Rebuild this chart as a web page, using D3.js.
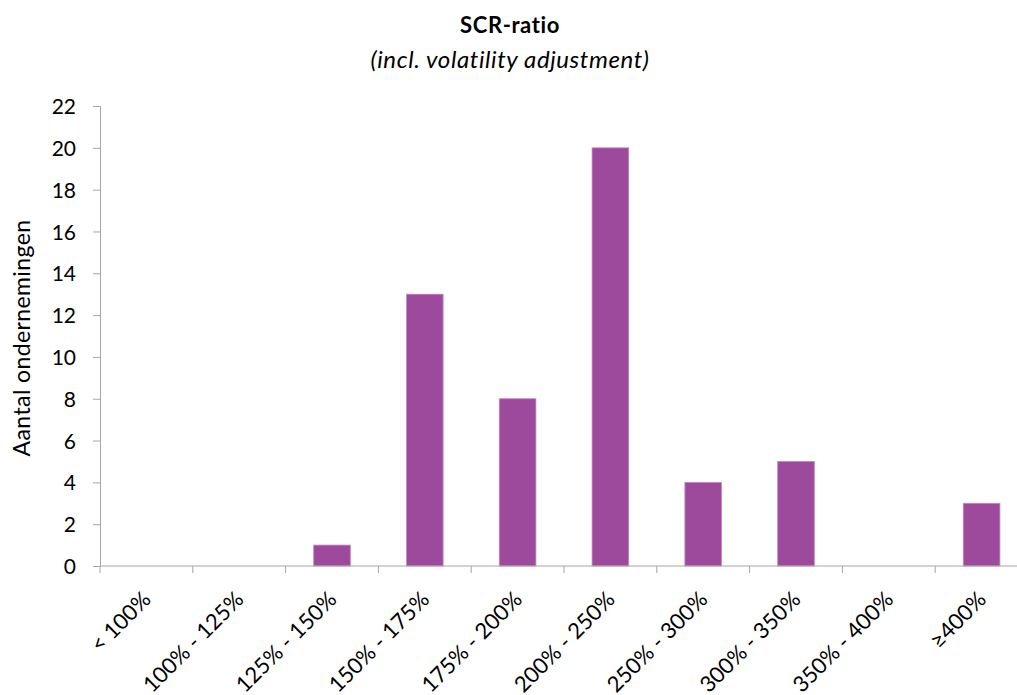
<!DOCTYPE html>
<html><head><meta charset="utf-8">
<script src="https://cdn.jsdelivr.net/npm/d3@7"></script>
<style>
body{margin:0;background:#fff;}
text{font-family:Lato,"Open Sans",sans-serif;fill:#000;}
</style></head>
<body><svg id="c" width="1017" height="695"></svg>
<script>
const categories = ["< 100%","100% - 125%","125% - 150%","150% - 175%","175% - 200%","200% - 250%","250% - 300%","300% - 350%","350% - 400%","\u2265400%"];
const values = [0,0,1,13,8,20,4,5,0,3];
const yTicks = [0,2,4,6,8,10,12,14,16,18,20,22];
const title = "SCR-ratio";
const subtitle = "(incl. volatility adjustment)";
const yTitle = "Aantal ondernemingen";

const svg = d3.select("#c");
const pLeft = 100, pRight = 1028, pTop = 106, pBottom = 566;
const x = d3.scaleBand().domain(categories).range([pLeft, pRight]).paddingInner(0.605).paddingOuter(0.3025);
const xb = d3.scaleBand().domain(categories).range([pLeft, pRight]);
const y = d3.scaleLinear().domain([0,22]).range([pBottom, pTop]);
const axisColor = "#a6a6a6";

// bars
svg.append("g").selectAll("rect").data(values).join("rect")
  .attr("x",(d,i)=>x(categories[i]))
  .attr("y",d=>y(d))
  .attr("width",x.bandwidth())
  .attr("height",d=>y(0)-y(d))
  .attr("fill","#9e4a9c")
  .attr("stroke","#c28bc1").attr("stroke-width",0.8);

// y axis
const ya = svg.append("g").attr("transform",`translate(${pLeft},0)`)
  .call(d3.axisLeft(y).tickValues(yTicks).tickSize(7).tickPadding(17));
ya.select(".domain").attr("stroke",axisColor);
ya.selectAll(".tick line").attr("stroke",axisColor);
ya.selectAll("text").style("font-size","21px").attr("dy","0.36em");

// x axis
const xa = svg.append("g").attr("transform",`translate(0,${pBottom})`);
xa.append("line").attr("x1",pLeft).attr("x2",pRight).attr("y1",0).attr("y2",0).attr("stroke",axisColor);
xa.selectAll(".tk").data(categories.concat(["__end"])).join("line")
  .attr("x1",(d,i)=>pLeft + i*xb.bandwidth()).attr("x2",(d,i)=>pLeft + i*xb.bandwidth())
  .attr("y1",0).attr("y2",7).attr("stroke",axisColor);
xa.selectAll(".lbl").data(categories).join("text")
  .attr("transform",d=>`translate(${xb(d)+xb.bandwidth()/2-5},${24}) rotate(-45)`)
  .attr("text-anchor","end")
  .attr("dy","0.7em")
  .style("font-size","22px")
  .text(d=>d);

// titles
svg.append("text").attr("x",510).attr("y",33).attr("text-anchor","middle")
  .style("font-size","22px").style("letter-spacing","0.6px").style("font-weight","bold").text(title);
svg.append("text").attr("x",510).attr("y",68).attr("text-anchor","middle")
  .style("font-size","24px").style("letter-spacing","0.6px").style("font-style","italic").text(subtitle);
svg.append("text").attr("transform","translate(30,338) rotate(-90)").attr("text-anchor","middle")
  .style("font-size","23px").style("letter-spacing","0.4px").text(yTitle);
</script></body></html>
